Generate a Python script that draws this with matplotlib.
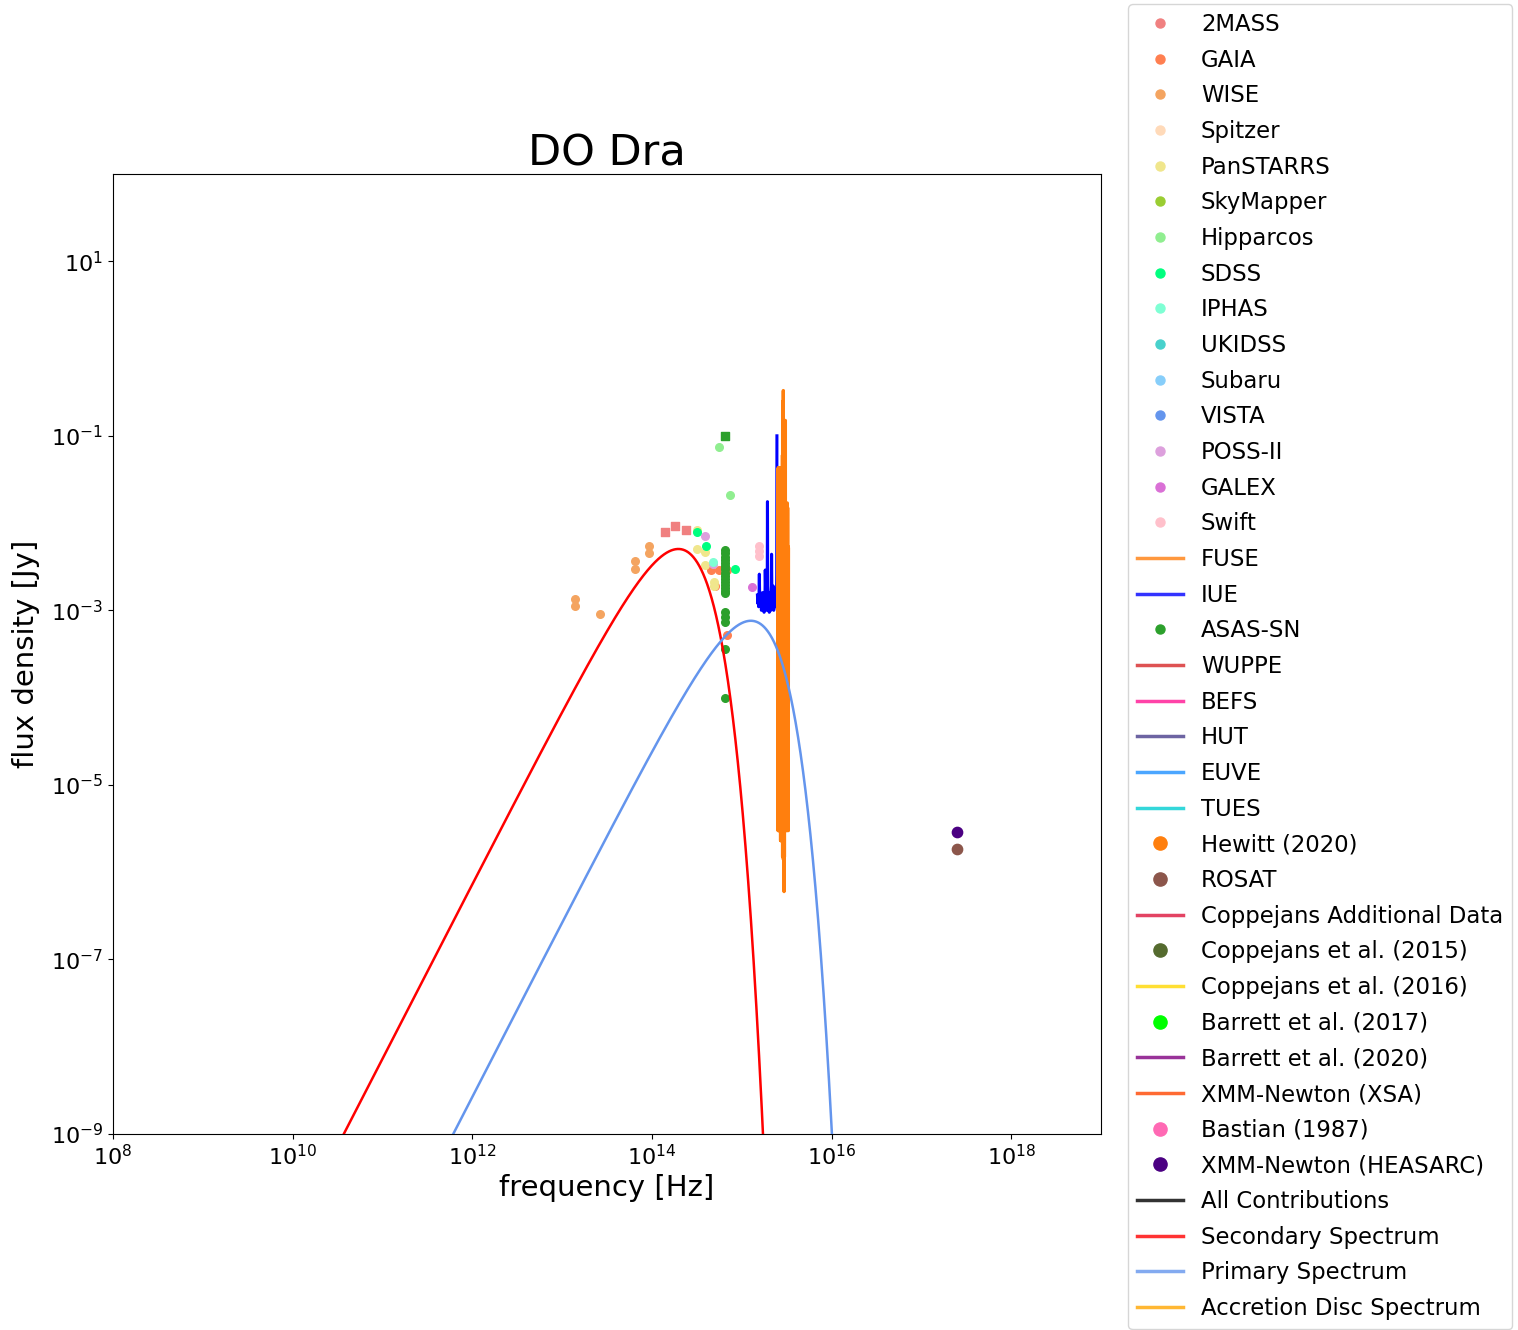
import numpy as np
import matplotlib
matplotlib.use("Agg")
import matplotlib.pyplot as plt
from matplotlib.lines import Line2D

# ---------------------------------------------------------------- photometry
# frequency [Hz], flux density [Jy]
twomass_nu = [1.39e14, 1.83e14, 2.42e14]
twomass_f = [7.9e-3, 9.3e-3, 8.4e-3]

gaia_nu = [4.56e14, 5.60e14, 6.89e14, 5.10e14, 6.83e14]
gaia_f = [2.9e-3, 2.9e-3, 2.9e-3, 1.9e-3, 5.2e-4]

wise_nu = [1.38e13, 1.38e13, 2.63e13, 6.55e13, 6.55e13, 9.23e13, 9.23e13]
wise_f = [1.35e-3, 1.12e-3, 9.0e-4, 3.65e-3, 2.98e-3, 5.5e-3, 4.5e-3]

panstarrs_nu = [3.16e14, 3.21e14, 3.92e14, 3.92e14, 4.93e14, 4.93e14]
panstarrs_f = [8.3e-3, 5.1e-3, 4.7e-3, 3.3e-3, 2.1e-3, 1.9e-3]

hipparcos_nu = [5.65e14, 7.36e14]
hipparcos_f = [7.4e-2, 2.12e-2]

sdss_nu = [3.21e14, 3.98e14, 8.45e14]
sdss_f = [7.9e-3, 5.4e-3, 3.0e-3]

iphas_nu = [4.84e14]
iphas_f = [3.6e-3]

poss_nu = [3.92e14, 4.84e14]
poss_f = [7.2e-3, 3.4e-3]

galex_nu = [1.294e15]
galex_f = [1.87e-3]

swift_nu = [1.574e15, 1.574e15, 1.574e15]
swift_f = [5.5e-3, 4.8e-3, 4.2e-3]

asassn_nu = 6.53e14
asassn_f = [4.9e-3, 4.5e-3, 4.1e-3, 3.8e-3, 3.5e-3, 3.2e-3, 2.95e-3, 2.7e-3,
            2.5e-3, 2.3e-3, 2.1e-3, 1.95e-3, 1.8e-3, 1.67e-3, 1.58e-3,
            9.6e-4, 8.3e-4, 7.3e-4, 3.6e-4, 9.9e-5]
asassn_bright_f = [1.0e-1]

rosat_nu = [2.48e17]
rosat_f = [1.83e-6]
xmm_heasarc_nu = [2.48e17]
xmm_heasarc_f = [2.9e-6]

# ---------------------------------------------------------------- spectra
C_ANG = 2.998e18  # speed of light [Angstrom / s]

iue_wave = [1216, 1222, 1230, 1245, 1260, 1275, 1290, 1305, 1320, 1335,
            1350, 1365, 1380, 1395, 1405, 1420, 1435, 1450, 1465, 1480,
            1495, 1510, 1525, 1540, 1550, 1560, 1575, 1590, 1605, 1620,
            1640, 1655, 1670, 1690, 1710, 1730, 1750, 1770, 1790, 1810,
            1830, 1850, 1870, 1890, 1909, 1925, 1945, 1965, 1985, 2005]
iue_flux = [1.0e-1, 2.5e-3, 1.3e-3, 1.6e-3, 1.1e-3, 1.5e-3, 1.2e-3, 1.8e-3,
            1.0e-3, 1.9e-3, 1.2e-3, 1.5e-3, 1.1e-3, 4.4e-3, 1.4e-3, 1.0e-3,
            1.6e-3, 1.2e-3, 1.5e-3, 9.5e-4, 1.4e-3, 1.1e-3, 1.6e-3, 1.9e-3,
            1.76e-2, 1.5e-3, 1.0e-3, 1.4e-3, 1.1e-3, 1.5e-3, 2.9e-3, 1.2e-3,
            1.5e-3, 9.5e-4, 1.4e-3, 1.2e-3, 1.6e-3, 1.1e-3, 1.4e-3, 1.0e-3,
            1.5e-3, 1.2e-3, 1.6e-3, 1.3e-3, 2.6e-3, 1.4e-3, 1.1e-3, 1.5e-3,
            1.2e-3, 1.5e-3]

fuse_wave = [905, 910, 914, 919, 924, 928, 933, 938, 943, 947, 952, 957,
             961, 966, 971, 976, 980, 985, 990, 994, 999, 1004, 1008, 1013,
             1018, 1022, 1026, 1030, 1032, 1035, 1038, 1041, 1046, 1051,
             1055, 1060, 1065, 1069, 1074, 1079, 1083, 1088, 1093, 1097,
             1102, 1107, 1112, 1116, 1121, 1126, 1130, 1135, 1140, 1145,
             1149, 1154, 1159, 1163, 1168, 1173, 1178, 1182, 1187]
fuse_flux = [5.0e-3, 3.0e-6, 5.4e-3, 3.0e-6, 1.5e-2, 3.2e-6, 1.7e-2, 3.0e-6,
             1.2e-2, 3.0e-6, 1.6e-2, 3.5e-6, 1.0e-2, 3.0e-6, 1.5e-2, 3.0e-6,
             1.5e-1, 3.0e-6, 1.0e-1, 3.0e-6, 6.0e-2, 1.5e-6, 8.0e-2, 6.0e-7,
             5.0e-2, 1.5e-6, 1.2e-1, 1.4e-6, 3.3e-1, 1.5e-6, 2.5e-1, 1.5e-6,
             1.0e-1, 1.5e-6, 6.0e-2, 2.3e-6, 4.0e-2, 2.3e-6, 3.5e-2, 2.3e-6,
             4.0e-2, 2.3e-6, 3.0e-2, 2.3e-6, 4.3e-2, 2.3e-6, 3.5e-2, 3.0e-6,
             4.3e-2, 3.0e-6, 3.0e-2, 3.0e-6, 4.3e-2, 3.0e-6, 3.5e-2, 3.0e-6,
             4.3e-2, 3.0e-6, 3.0e-2, 3.0e-6, 4.3e-2, 3.0e-6, 3.0e-2]

# ---------------------------------------------------------------- model
secondary_T = 3350.0      # K
secondary_peak = 5.05e-3  # Jy
primary_T = 21500.0       # K
primary_peak = 7.6e-4     # Jy

H_PLANCK = 6.626e-34
K_BOLTZ = 1.381e-23


def blackbody(nu, temp, peak):
    """Planck B_nu shape scaled to a given peak flux density."""
    shape = nu ** 3 / np.expm1(H_PLANCK * nu / (K_BOLTZ * temp))
    nu_pk = 2.821 * K_BOLTZ * temp / H_PLANCK
    shape_pk = nu_pk ** 3 / np.expm1(2.821)
    return peak * shape / shape_pk


nu_grid = np.logspace(8, 19, 4000)

x_ticks = [1e8, 1e10, 1e12, 1e14, 1e16, 1e18]
y_ticks = [1e-9, 1e-7, 1e-5, 1e-3, 1e-1, 1e1]

# ---------------------------------------------------------------- figure
fig = plt.figure(figsize=(15.18, 13.30), dpi=100)
ax = fig.add_axes([113 / 1518, 1 - 1134 / 1330, 988 / 1518, 960 / 1330])

S_PT = 30
ax.scatter(wise_nu, wise_f, s=S_PT, color="sandybrown", zorder=3)
ax.scatter(twomass_nu, twomass_f, s=S_PT, marker="s", color="lightcoral", zorder=3)
ax.scatter(gaia_nu, gaia_f, s=S_PT, color="coral", zorder=3)
ax.scatter(panstarrs_nu, panstarrs_f, s=S_PT, color="khaki", zorder=3)
ax.scatter(hipparcos_nu, hipparcos_f, s=S_PT, color="lightgreen", zorder=3)
ax.scatter(poss_nu, poss_f, s=S_PT, color="plum", zorder=3)
ax.scatter(sdss_nu, sdss_f, s=S_PT, color="springgreen", zorder=3)
ax.scatter(iphas_nu, iphas_f, s=S_PT, color="aquamarine", zorder=3)
ax.scatter([asassn_nu] * len(asassn_f), asassn_f, s=S_PT, color="tab:green", zorder=3)
ax.scatter([asassn_nu] * len(asassn_bright_f), asassn_bright_f, s=S_PT,
           marker="s", color="tab:green", zorder=3)
ax.scatter(galex_nu, galex_f, s=S_PT, color="orchid", zorder=3)
ax.scatter(swift_nu, swift_f, s=S_PT, color="pink", zorder=3)
ax.scatter(rosat_nu, rosat_f, s=55, color="tab:brown", zorder=3)
ax.scatter(xmm_heasarc_nu, xmm_heasarc_f, s=55, color="indigo", zorder=3)

iue_nu = C_ANG / np.asarray(iue_wave, dtype=float)
fuse_nu = C_ANG / np.asarray(fuse_wave, dtype=float)
ax.plot(iue_nu, iue_flux, color="blue", lw=2.2, zorder=4)
ax.plot(fuse_nu, fuse_flux, color="#ff7f0e", lw=2.4, zorder=4)

ax.plot(nu_grid, blackbody(nu_grid, secondary_T, secondary_peak),
        color="red", lw=1.8, zorder=5)
ax.plot(nu_grid, blackbody(nu_grid, primary_T, primary_peak),
        color="cornflowerblue", lw=1.8, zorder=5)

ax.set_xscale("log")
ax.set_yscale("log")
ax.set_xlim(1e8, 1e19)
ax.set_ylim(1e-9, 1e2)
ax.set_xticks(x_ticks)
ax.set_yticks(y_ticks)
ax.xaxis.set_minor_locator(matplotlib.ticker.NullLocator())
ax.yaxis.set_minor_locator(matplotlib.ticker.NullLocator())
ax.tick_params(labelsize=16)
ax.set_xlabel("frequency [Hz]", fontsize=21)
ax.set_ylabel("flux density [Jy]", fontsize=21, labelpad=8)
ax.set_title("DO Dra", fontsize=31)

# ---------------------------------------------------------------- legend
legend_entries = [
    ("2MASS", "lightcoral", "dot"), ("GAIA", "coral", "dot"),
    ("WISE", "sandybrown", "dot"), ("Spitzer", "peachpuff", "dot"),
    ("PanSTARRS", "khaki", "dot"), ("SkyMapper", "yellowgreen", "dot"),
    ("Hipparcos", "lightgreen", "dot"), ("SDSS", "springgreen", "dot"),
    ("IPHAS", "aquamarine", "dot"), ("UKIDSS", "mediumturquoise", "dot"),
    ("Subaru", "lightskyblue", "dot"), ("VISTA", "cornflowerblue", "dot"),
    ("POSS-II", "plum", "dot"), ("GALEX", "orchid", "dot"),
    ("Swift", "pink", "dot"), ("FUSE", "#ff7f0e", "line"),
    ("IUE", "blue", "line"), ("ASAS-SN", "tab:green", "dot"),
    ("WUPPE", "tab:red", "line"), ("BEFS", "deeppink", "line"),
    ("HUT", "darkslateblue", "line"), ("EUVE", "dodgerblue", "line"),
    ("TUES", "darkturquoise", "line"), ("Hewitt (2020)", "#ff7f0e", "big"),
    ("ROSAT", "tab:brown", "big"),
    ("Coppejans Additional Data", "crimson", "line"),
    ("Coppejans et al. (2015)", "darkolivegreen", "big"),
    ("Coppejans et al. (2016)", "gold", "line"),
    ("Barrett et al. (2017)", "lime", "big"),
    ("Barrett et al. (2020)", "purple", "line"),
    ("XMM-Newton (XSA)", "orangered", "line"),
    ("Bastian (1987)", "hotpink", "big"),
    ("XMM-Newton (HEASARC)", "indigo", "big"),
    ("All Contributions", "black", "line"),
    ("Secondary Spectrum", "red", "line"),
    ("Primary Spectrum", "cornflowerblue", "line"),
    ("Accretion Disc Spectrum", "orange", "line"),
]

handles = []
for label, color, kind in legend_entries:
    if kind == "line":
        handles.append(Line2D([], [], color=color, lw=2.5, alpha=0.8, label=label))
    else:
        ms = 6.5 if kind == "dot" else 9.5
        handles.append(Line2D([], [], color=color, marker="o", ls="none",
                              ms=ms, label=label))

fig.legend(handles=handles, loc="upper left",
           bbox_to_anchor=(1128 / 1518, 1 - 4 / 1330),
           bbox_transform=fig.transFigure, borderaxespad=0,
           fontsize=16.4, labelspacing=0.556, handlelength=2.0)

fig.savefig("out.png", dpi=100)
